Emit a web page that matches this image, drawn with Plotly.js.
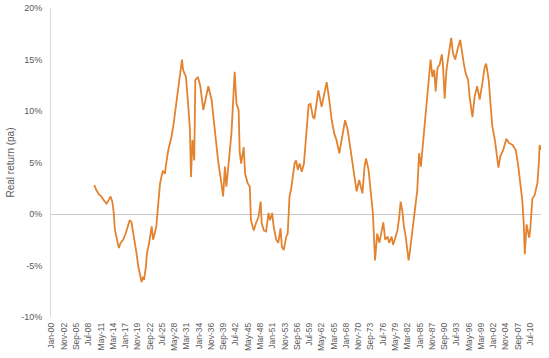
<!DOCTYPE html>
<html>
<head>
<meta charset="utf-8">
<script src="https://cdn.plot.ly/plotly-3.0.1.min.js"></script>
<style>html,body{margin:0;padding:0;background:#fff;}#chart{width:549px;height:358px;}</style>
</head>
<body>
<div id="chart"></div>
<script>
// Month of each reading
const dates = [
"1909-11","1910-05","1910-12","1911-07","1912-01","1912-09","1913-03","1913-08","1914-01","1914-05",
"1914-08","1915-01","1915-07","1915-12","1916-07","1917-02","1917-09","1918-01","1918-06","1918-10",
"1919-03","1919-08","1920-01","1920-05","1920-10","1921-02","1921-05","1921-10","1922-01","1922-07",
"1923-02","1923-06","1923-11","1924-03","1924-07","1925-01","1925-05","1925-09","1926-03","1926-05",
"1926-12","1927-09","1928-03","1928-10","1929-03","1929-08","1930-01","1930-02","1930-05","1931-01",
"1931-07","1931-12","1932-03","1932-07","1932-12","1933-03","1933-10","1934-05","1935-01","1935-08",
"1936-03","1936-12","1937-09","1938-06","1939-02","1939-08","1940-01","1940-05","1940-12","1941-07",
"1941-12","1942-04","1942-09","1943-03","1943-06","1943-10","1944-05","1944-09","1945-04","1945-10",
"1946-01","1946-09","1947-03","1947-10","1948-04","1948-07","1949-01","1949-07","1950-02","1950-06",
"1950-12","1951-04","1951-11","1952-05","1952-11","1953-03","1953-08","1954-03","1954-07","1954-12",
"1955-04","1955-09","1956-02","1956-06","1956-11","1957-04","1957-10","1958-04","1958-10","1959-05",
"1959-10","1960-05","1960-09","1961-08","1962-05","1963-01","1963-07","1964-02","1964-09","1965-04",
"1965-10","1966-06","1967-01","1967-10","1968-05","1968-12","1969-09","1970-03","1970-06","1971-01",
"1971-10","1972-04","1972-08","1973-03","1973-10","1974-03","1974-09","1975-03","1975-09","1976-08",
"1977-01","1977-08","1977-12","1978-07","1978-11","1979-05","1979-11","1980-04","1980-08","1981-01",
"1981-05","1981-10","1982-03","1982-06","1982-09","1983-03","1983-09","1984-02","1984-06","1984-11",
"1985-04","1985-10","1986-04","1986-10","1987-03","1987-07","1987-12","1988-05","1988-09","1989-02",
"1989-08","1990-02","1990-05","1990-10","1991-03","1991-10","1992-04","1992-09","1993-03","1993-09",
"1994-05","1995-03","1995-08","1996-03","1996-07","1997-03","1997-09","1998-04","1998-11","1999-06",
"2000-01","2000-05","2000-12","2001-05","2001-10","2002-05","2002-09","2003-03","2003-08","2004-04",
"2005-01","2005-08","2006-06","2007-03","2007-09","2008-04","2008-09","2009-01","2009-04","2009-09",
"2010-04","2010-07","2011-01","2011-07","2012-03","2012-07","2012-09","2012-12"
];
// Real return (% pa) at each of those months
const realReturn = [
2.8,2.3,1.9,1.7,1.35,1.0,1.35,1.7,1.2,0.1,
-1.5,-2.5,-3.3,-2.8,-2.5,-1.9,-1.1,-0.6,-0.8,-1.6,
-2.5,-3.8,-5.1,-5.7,-6.6,-6.1,-6.4,-5.1,-3.8,-2.8,
-1.2,-2.5,-1.6,-1.2,0.5,2.9,3.6,4.2,3.9,4.6,
6.2,7.5,8.8,10.7,11.9,13.7,14.8,15.0,14.0,13.3,
10.7,8.2,3.6,7.2,5.2,13.0,13.3,12.4,10.1,11.4,
12.4,11.1,7.8,5.2,3.3,1.7,4.6,2.65,5.2,7.8,
11.1,13.8,10.7,10.1,6.0,4.9,6.5,3.9,3.0,2.65,
-0.6,-1.6,-0.9,-0.3,1.2,-0.9,-1.6,-1.7,0.1,-0.6,
0.1,-1.2,-2.5,-2.8,-1.4,-3.2,-3.5,-2.2,-1.9,1.7,
2.3,3.6,4.9,5.2,4.3,4.9,4.1,4.9,7.8,10.6,
10.7,9.4,9.3,12.0,10.4,11.7,12.8,11.1,9.1,7.8,
7.2,5.9,7.2,9.1,8.2,6.5,4.6,3.3,2.2,3.3,
2.0,4.6,5.4,4.3,2.0,0.1,-4.5,-1.9,-2.8,-0.8,
-2.5,-2.2,-2.8,-2.2,-3.0,-2.2,-1.6,-0.3,1.2,0.2,
-1.2,-2.2,-3.5,-4.5,-3.8,-1.9,-0.3,1.7,2.3,5.9,
4.6,6.9,9.1,11.4,13.7,15.0,13.3,14.0,11.9,14.2,
14.5,15.5,14.6,11.2,14.0,15.9,17.1,15.6,15.0,15.9,
16.9,14.6,13.7,13.0,11.4,9.4,11.4,12.4,11.1,12.6,
14.3,14.6,13.0,10.7,8.5,7.2,6.2,4.5,5.6,6.2,
7.3,6.9,6.7,6.2,4.9,3.0,1.35,-0.9,-3.9,-1.0,
-2.3,-1.6,1.5,1.8,3.0,5.0,6.7,6.2
];
// Category tick labels (every 34 months from Jan 1900)
const tickLabels = ["Jan-00","Nov-02","Sep-05","Jul-08","May-11","Mar-14","Jan-17","Nov-19","Sep-22","Jul-25",
"May-28","Mar-31","Jan-34","Nov-36","Sep-39","Jul-42","May-45","Mar-48","Jan-51","Nov-53",
"Sep-56","Jul-59","May-62","Mar-65","Jan-68","Nov-70","Sep-73","Jul-76","May-79","Mar-82",
"Jan-85","Nov-87","Sep-90","Jul-93","May-96","Mar-99","Jan-02","Nov-04","Sep-07","Jul-10"];
const yTickVals = [-10,-5,0,5,10,15,20];
const yTickText = ["-10%","-5%","0%","5%","10%","15%","20%"];

const months = ["Jan","Feb","Mar","Apr","May","Jun","Jul","Aug","Sep","Oct","Nov","Dec"];
let century = 1900, prevYY = -1;
const tickVals = tickLabels.map(l => {
  const [m, yy] = l.split("-");
  const y2 = parseInt(yy, 10);
  if (prevYY >= 0 && y2 < prevYY) century += 100;
  prevYY = y2;
  const mi = months.indexOf(m) + 1;
  return (century + y2) + "-" + String(mi).padStart(2, "0") + "-01";
});

const txt = "#595959";
Plotly.newPlot("chart", [{
  type: "scatter", mode: "lines",
  x: dates, y: realReturn,
  line: {color: "#E3832F", width: 1.8},
  hoverinfo: "skip"
}], {
  width: 549, height: 358,
  margin: {l: 51, r: 8, t: 8, b: 41, pad: 0},
  paper_bgcolor: "#fff", plot_bgcolor: "#fff",
  showlegend: false,
  font: {family: "Liberation Sans, Arial, sans-serif", color: txt, size: 9},
  xaxis: {
    type: "date",
    range: ["1899-11-01", "2012-12-28"],
    tickmode: "array", tickvals: tickVals, ticktext: tickLabels,
    tickangle: -90, tickfont: {size: 8.5, color: txt},
    showgrid: false, zeroline: false, showline: false, ticks: "",
    automargin: false, ticklabelstandoff: 3
  },
  yaxis: {
    range: [-10, 20],
    tickmode: "array", tickvals: yTickVals, ticktext: yTickText,
    tickfont: {size: 9, color: txt},
    showgrid: false, showline: true, linecolor: "#d9d9d9", linewidth: 1,
    zeroline: true, zerolinecolor: "#c8c8c8", zerolinewidth: 1,
    ticks: "", ticklabelstandoff: 6, automargin: false,
    title: {text: "Real return (pa)", font: {size: 10, color: txt}, standoff: 4}
  }
}, {staticPlot: true, displayModeBar: false});
</script>
</body>
</html>
